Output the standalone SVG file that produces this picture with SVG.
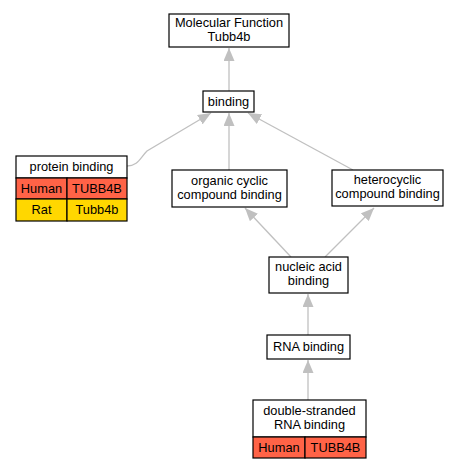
<svg xmlns="http://www.w3.org/2000/svg" width="463" height="469" viewBox="0 0 463 469">
<style>
.box{fill:#fff;stroke:#000;stroke-width:1.2}
.hs{fill:#ff6347;stroke:#000;stroke-width:1.2}
.rn{fill:#ffd700;stroke:#000;stroke-width:1.2}
text{font-family:"Liberation Sans",Arial,sans-serif;font-size:12.8px;fill:#000;text-anchor:middle}
.edge{fill:none;stroke:#c0c0c0;stroke-width:1.3}
</style>
<defs>
<marker id="ah" markerWidth="14" markerHeight="11" refX="13" refY="5.5" orient="auto" markerUnits="userSpaceOnUse" viewBox="0 0 14 11">
<path d="M0,0 L13,5.5 L0,11 z" fill="#c0c0c0"/>
</marker>
</defs>
<rect width="463" height="469" fill="#fff"/>
<g id="edges">
<path class="edge" d="M229,91 L229,48" marker-end="url(#ah)"/>
<path class="edge" d="M127,166 C138,166 140,158 147,151 L211,113" marker-end="url(#ah)"/>
<path class="edge" d="M229,170 L229,113" marker-end="url(#ah)"/>
<path class="edge" d="M353,170 L248,113" marker-end="url(#ah)"/>
<path class="edge" d="M291,257 L245,208" marker-end="url(#ah)"/>
<path class="edge" d="M325,257 L374,208" marker-end="url(#ah)"/>
<path class="edge" d="M308,335 L308,294" marker-end="url(#ah)"/>
<path class="edge" d="M308,400 L308,360" marker-end="url(#ah)"/>
</g>
<g id="mf">
<rect class="box" x="169" y="14" width="120" height="33"/>
<text x="229" y="27">Molecular Function</text>
<text x="229" y="41">Tubb4b</text>
</g>
<g id="binding">
<rect class="box" x="203" y="91" width="51" height="21"/>
<text x="228.5" y="106">binding</text>
</g>
<g id="protein">
<rect class="box" x="16" y="156" width="111" height="22"/>
<text x="71.5" y="171">protein binding</text>
<rect class="hs" x="16" y="178" width="51" height="21"/>
<rect class="hs" x="67" y="178" width="60" height="21"/>
<text x="41.5" y="193">Human</text>
<text x="97" y="193">TUBB4B</text>
<rect class="rn" x="16" y="199" width="51" height="22"/>
<rect class="rn" x="67" y="199" width="60" height="22"/>
<text x="41.5" y="214">Rat</text>
<text x="97" y="214">Tubb4b</text>
</g>
<g id="organic">
<rect class="box" x="172" y="170" width="115" height="37"/>
<text x="229.5" y="185">organic cyclic</text>
<text x="229.5" y="199">compound binding</text>
</g>
<g id="hetero">
<rect class="box" x="332" y="170" width="111" height="36"/>
<text x="387.5" y="184">heterocyclic</text>
<text x="387.5" y="198">compound binding</text>
</g>
<g id="nucleic">
<rect class="box" x="269" y="257" width="79" height="36"/>
<text x="308.5" y="271">nucleic acid</text>
<text x="308.5" y="285">binding</text>
</g>
<g id="rna">
<rect class="box" x="267" y="335" width="83" height="24"/>
<text x="308.5" y="351">RNA binding</text>
</g>
<g id="ds">
<rect class="box" x="253" y="400" width="113" height="37"/>
<text x="309.5" y="415">double-stranded</text>
<text x="309.5" y="429">RNA binding</text>
<rect class="hs" x="253" y="437" width="52" height="21"/>
<rect class="hs" x="305" y="437" width="61" height="21"/>
<text x="279" y="452">Human</text>
<text x="335.5" y="452">TUBB4B</text>
</g>
</svg>
